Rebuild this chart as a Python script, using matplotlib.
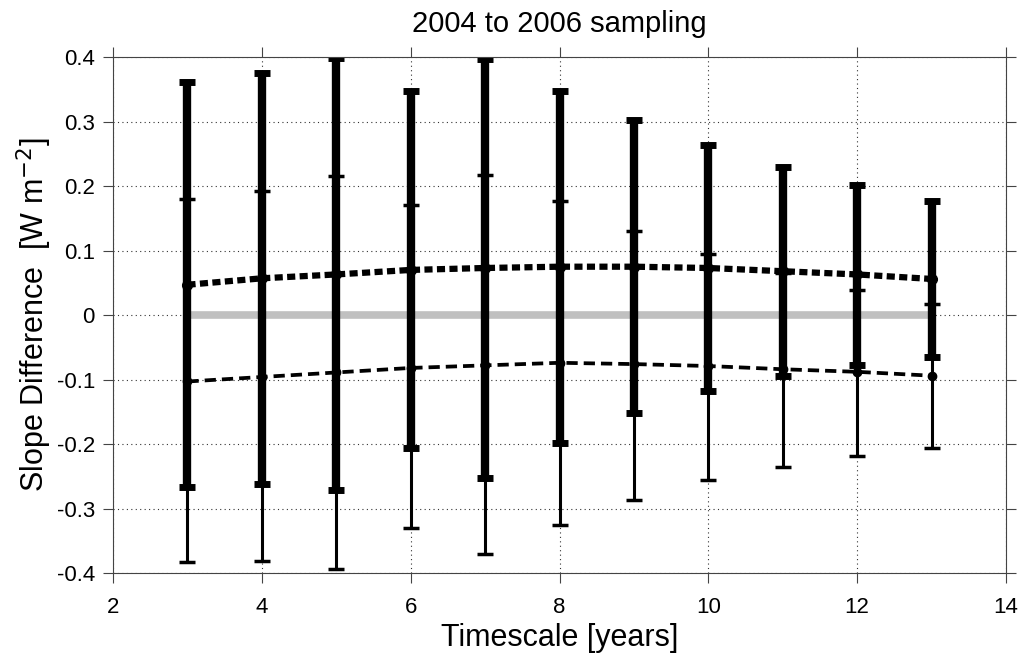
import matplotlib
matplotlib.use("Agg")
import matplotlib.pyplot as plt

plt.rcParams['font.family'] = ['Liberation Sans', 'DejaVu Sans']

timescale = [3, 4, 5, 6, 7, 8, 9, 10, 11, 12, 13]

# thick series (upper)
mean_a = [0.047, 0.057, 0.063, 0.070, 0.073, 0.075, 0.075, 0.073, 0.068, 0.063, 0.056]
top_a = [0.361, 0.376, 0.398, 0.347, 0.397, 0.348, 0.303, 0.264, 0.230, 0.201, 0.177]
bot_a = [-0.267, -0.262, -0.272, -0.206, -0.252, -0.199, -0.152, -0.118, -0.095, -0.077, -0.065]

# thin series (lower)
mean_b = [-0.103, -0.096, -0.089, -0.082, -0.078, -0.074, -0.076, -0.079, -0.084, -0.088, -0.094]
top_b = [0.180, 0.192, 0.215, 0.170, 0.217, 0.177, 0.131, 0.094, 0.066, 0.039, 0.017]
bot_b = [-0.383, -0.382, -0.393, -0.330, -0.370, -0.325, -0.286, -0.256, -0.236, -0.218, -0.206]

err_a = [[m - b for m, b in zip(mean_a, bot_a)], [t - m for m, t in zip(mean_a, top_a)]]
err_b = [[m - b for m, b in zip(mean_b, bot_b)], [t - m for m, t in zip(mean_b, top_b)]]

fig = plt.figure(figsize=(10.24, 6.64), dpi=100)
ax = fig.add_axes([0.1104, 0.137, 0.872, 0.777])
ax.set_axisbelow(True)

ax.plot([timescale[0], timescale[-1]], [0, 0], color='#c0c0c0', lw=5.5, zorder=1.5)

ax.errorbar(timescale, mean_b, yerr=err_b, fmt='o', color='black', ms=6,
            elinewidth=2.2, capsize=5.8, capthick=2.5, zorder=3)
ax.plot(timescale, mean_b, color='black', lw=2.7, ls=(0, (3.0, 1.6)), zorder=3)

ax.errorbar(timescale, mean_a, yerr=err_a, fmt='o', color='black', ms=7,
            elinewidth=6, capsize=5.8, capthick=5, zorder=2)
ax.plot(timescale, mean_a, color='black', lw=4.5, ls=(0, (1.3, 0.7)), zorder=2)

ax.set_xlim(2, 14)
ax.set_ylim(-0.4, 0.4)
ax.set_xticks(range(2, 15, 2))
ax.set_yticks([-0.4, -0.3, -0.2, -0.1, 0, 0.1, 0.2, 0.3, 0.4])
ax.set_yticklabels(['-0.4', '-0.3', '-0.2', '-0.1', '0', '0.1', '0.2', '0.3', '0.4'])
ax.grid(True, ls=(0, (1, 3)), color='#333333', lw=0.8)
ax.tick_params(direction='out', top=True, right=True, labelsize=16, length=7,
               color='#444444')
ax.tick_params(axis='x', pad=10)
ax.tick_params(axis='y', pad=6)
for s in ax.spines.values():
    s.set_color('#444444')

ax.set_title('2004 to 2006 sampling', fontsize=21, pad=18)
ax.set_xlabel('Timescale [years]', fontsize=22)
ax.set_ylabel('Slope Difference  [W m$^{-2}$]', fontsize=22)
ax.xaxis.set_label_coords(0.5, -0.097)
ax.yaxis.set_label_coords(-0.066, 0.5)

fig.savefig('out.png', dpi=100)
